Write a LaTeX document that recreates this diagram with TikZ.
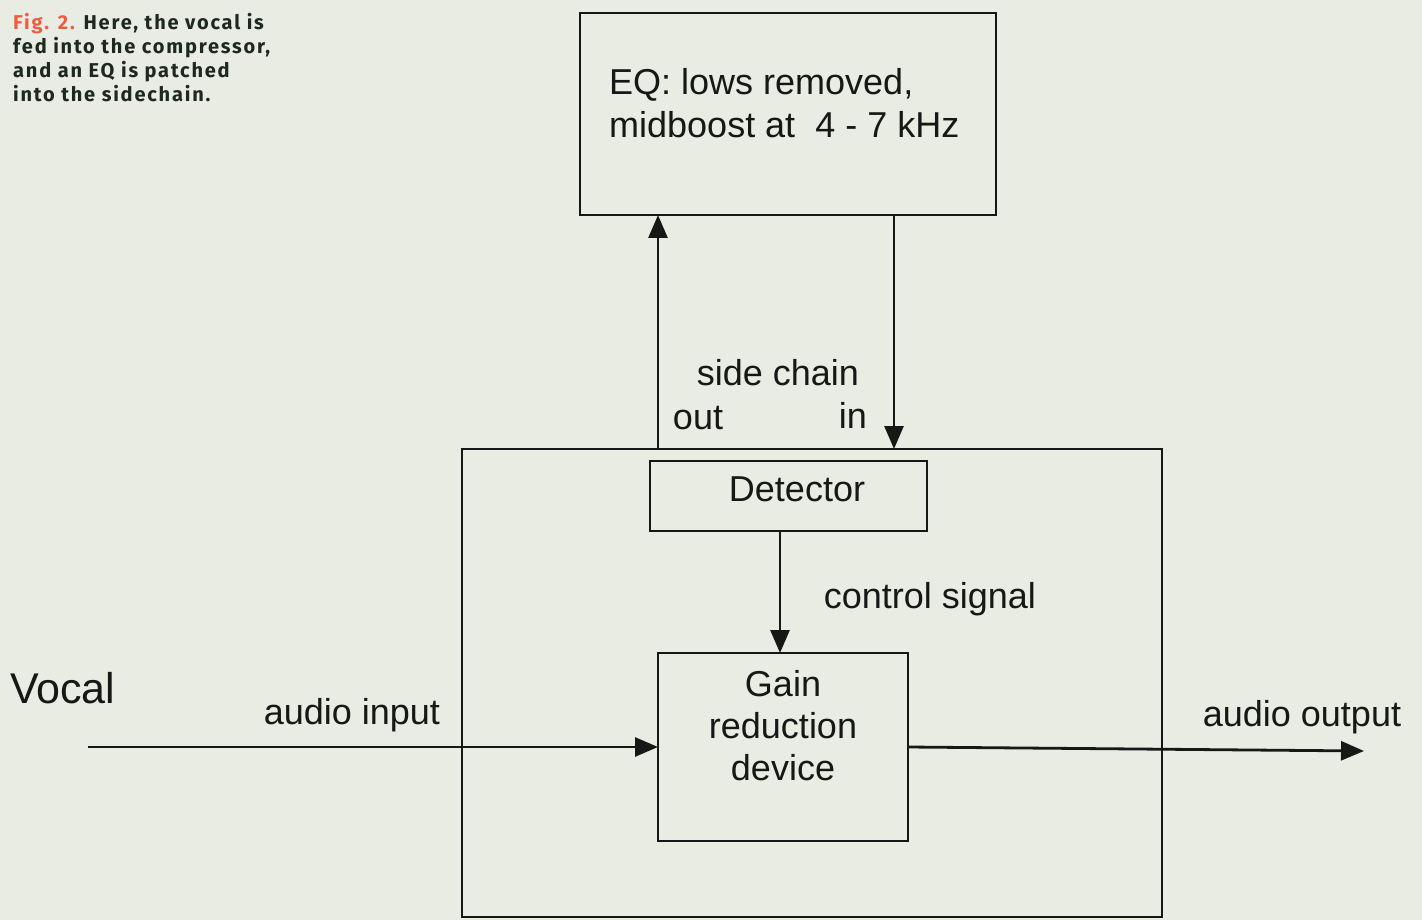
\documentclass[tikz,border=0pt]{standalone}
\usepackage{fontspec}
\setmainfont{Liberation Sans}
\newfontfamily\capfont[LetterSpace=9]{Fira Sans}
\usetikzlibrary{arrows.meta}
\definecolor{bg}{RGB}{232,236,226}
\definecolor{ink}{RGB}{22,24,22}
\definecolor{figred}{RGB}{240,92,66}
\definecolor{capink}{RGB}{30,40,32}
\begin{document}
\begin{tikzpicture}[x=1pt,y=-1pt,
  box/.style={draw=ink,line width=2.8pt,rectangle,outer sep=0pt,inner sep=0pt},
  arr/.style={draw=ink,line width=2.8pt,-{Triangle[length=23pt,width=19pt]}},
  lbl/.style={text=ink,inner sep=0pt,font=\fontsize{36}{43}\selectfont},
  captext/.style={text=capink,inner sep=0pt,anchor=base west,font=\capfont\bfseries\fontsize{20}{24}\selectfont}]
\fill[bg] (0,0) rectangle (1422,920);
\useasboundingbox (0,0) rectangle (1422,920);
% boxes
\node[box,minimum width=416pt,minimum height=202pt] (EQ) at (788,114) {};
\node[box,minimum width=700pt,minimum height=468pt] (Comp) at (812,683) {};
\node[box,minimum width=277pt,minimum height=70pt] (Det) at (788.5,496) {};
\node[box,minimum width=250pt,minimum height=188pt] (Gain) at (783,747) {};
% coordinates
\coordinate (inx) at (894,0);
\coordinate (ctl) at (780,0);
\coordinate (vin) at (88,747);
\coordinate (vout) at (1364,751);
% connectors
\draw[arr] (Comp.north -| Gain.west) -- (EQ.south -| Gain.west);
\draw[arr] (EQ.south -| inx) -- (Comp.north -| inx);
\draw[arr] (Det.south -| ctl) -- (Gain.north -| ctl);
\draw[arr] (vin) -- (Gain.west);
\draw[arr] (Gain.east) -- (vout);
% texts
\node[lbl,anchor=base west,align=left] (EQt) at (609,138) {EQ: lows removed,\\midboost at\ \ 4 - 7 kHz};
\node[lbl,anchor=base] (sc) at (778,385) {side chain};
\node[lbl,anchor=base] (outl) at (698,429) {out};
\node[lbl,anchor=base] (inl) at (853,428) {in};
\node[lbl,anchor=base] (dett) at (797,501) {Detector};
\node[lbl,anchor=base] (cs) at (930,608) {control signal};
\node[lbl,anchor=base,align=center,font=\fontsize{36}{42}\selectfont] (gt) at (783,780) {Gain\\reduction\\device};
\node[lbl,anchor=base west,font=\fontsize{43}{50}\selectfont] (voc) at (10,703) {Vocal};
\node[lbl,anchor=base] (ain) at (352,724) {audio input};
\node[lbl,anchor=base] (aout) at (1302,726) {audio output};
% caption
\node[captext] (c1) at (13,30) {\textcolor{figred}{Fig. 2.} Here, the vocal is};
\node[captext] (c2) at (13,54) {fed into the compressor,};
\node[captext] (c3) at (13,78) {and an EQ is patched};
\node[captext] (c4) at (13,102) {into the sidechain.};
\end{tikzpicture}
\end{document}
